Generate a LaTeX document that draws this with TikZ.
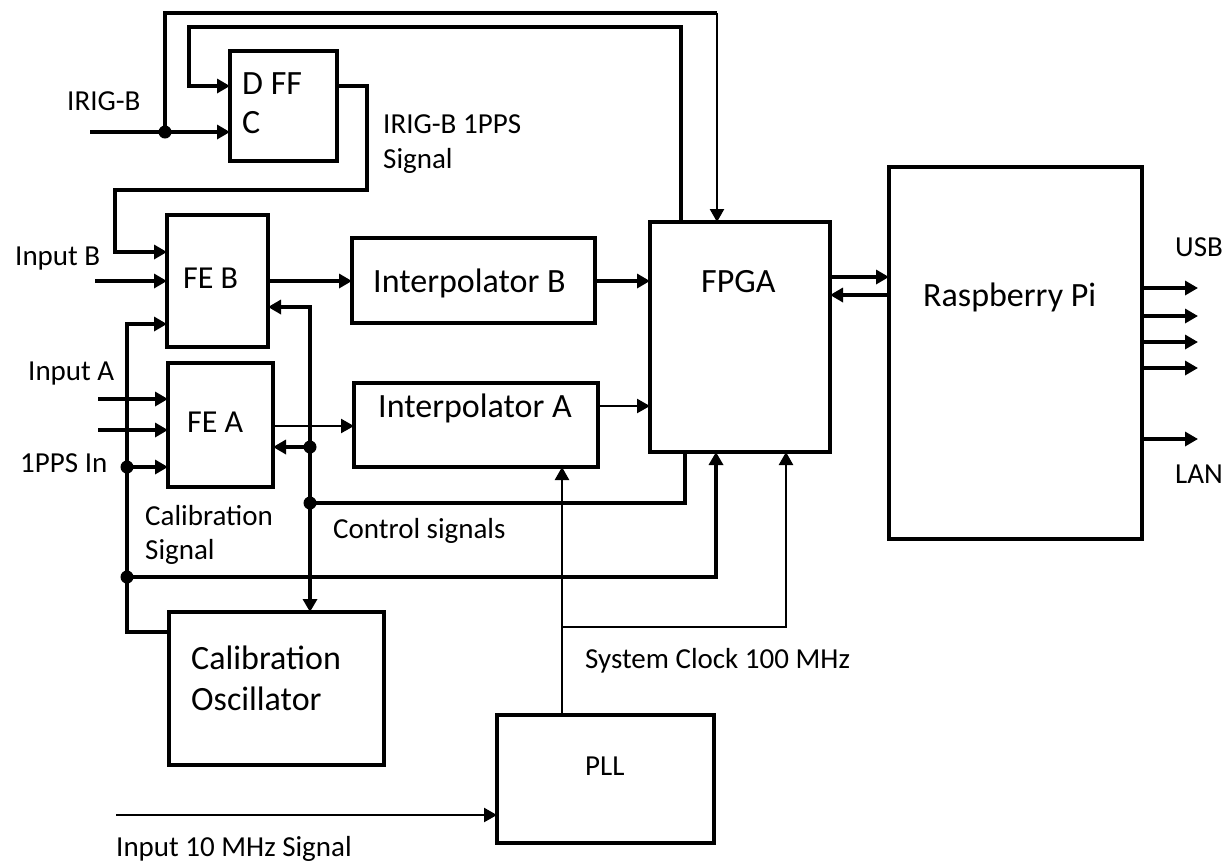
\documentclass[tikz,border=0pt]{standalone}
\usepackage{fontspec}
\setmainfont{Carlito}
\usetikzlibrary{arrows.meta}
\tikzset{
 box/.style={draw, line width=4.2pt, rectangle, outer sep=0pt, inner sep=0pt, anchor=north west},
 wire/.style={line width=3.6pt},
 thinwire/.style={line width=2.4pt},
 arr/.style={-{Triangle[length=13pt,width=14pt]}},
 big/.style={font=\fontsize{34}{40}\selectfont, inner sep=0pt, anchor=base west},
 mid/.style={font=\fontsize{32}{38}\selectfont, inner sep=0pt, anchor=base west},
 lab/.style={font=\fontsize{29}{34}\selectfont, inner sep=0pt, anchor=base west},
 dot/.style={fill=black}
}
\begin{document}
\begin{tikzpicture}[x=1pt,y=-1pt]
\useasboundingbox[fill=white] (0,0) rectangle (1227,863);
% boxes
\node[box, minimum width=107pt, minimum height=110pt] (dff) at (230,51) {};
\node[box, minimum width=101pt, minimum height=132pt] (feb) at (167,215) {};
\node[box, minimum width=105pt, minimum height=124pt] (fea) at (168,363) {};
\node[box, minimum width=243pt, minimum height=85pt] (intb) at (352,238) {};
\node[box, minimum width=244pt, minimum height=84pt] (inta) at (354,383) {};
\node[box, minimum width=180pt, minimum height=230pt] (fpga) at (650,222) {};
\node[box, minimum width=253pt, minimum height=372pt] (rpi) at (889,167) {};
\node[box, minimum width=215pt, minimum height=153pt] (calosc) at (169,612) {};
\node[box, minimum width=217pt, minimum height=128pt] (pll) at (497,715) {};
% texts
\node[lab] (tirig) at (67,110) {IRIG-B};
\node[big] (tdff) at (242,94) {D FF};
\node[big] (tc) at (242,133) {C};
\node[lab] (tpps1) at (383,133) {IRIG-B 1PPS};
\node[lab] (tpps2) at (383,168) {Signal};
\node[lab] (tinb) at (15,265) {Input B};
\node[lab] (tina) at (28,380) {Input A};
\node[lab] (t1pps) at (20,472) {1PPS In};
\node[mid] (tfeb) at (183,288) {FE B};
\node[mid] (tfea) at (187,432) {FE A};
\node[big] (tintb) at (373,292) {Interpolator B};
\node[big] (tinta) at (378,417) {Interpolator A};
\node[big] (tfpga) at (701,292) {FPGA};
\node[big] (trpi) at (923,306) {Raspberry Pi};
\node[lab] (tusb) at (1175,256) {USB};
\node[lab] (tlan) at (1175,483) {LAN};
\node[lab] (tcal1) at (145,525) {Calibration};
\node[lab] (tcal2) at (145,559) {Signal};
\node[lab] (tctl) at (333,538) {Control signals};
\node[big] (tosc1) at (191,669) {Calibration};
\node[big] (tosc2) at (191,710) {Oscillator};
\node[lab] (tclk) at (585,668) {System Clock 100 MHz};
\node[lab] (tpll) at (585,775) {PLL};
\node[lab] (t10) at (116,856) {Input 10 MHz Signal};
% coordinates
\coordinate (irigin) at (90,132);
\coordinate (jirig) at (165,132);
\coordinate (toptr) at (717,13);
\coordinate (xfd) at (681,0);
\coordinate (ffd) at (189,27);
\coordinate (yd) at (0,86);
\coordinate (qr) at (367,190);
\coordinate (qd) at (115,252);
\coordinate (inb) at (95,281);
\coordinate (yb) at (0,281);
\coordinate (calL) at (127,632);
\coordinate (calT) at (127,324);
\coordinate (jpps) at (127,467);
\coordinate (jcal) at (127,577);
\coordinate (ina1) at (98,399);
\coordinate (ina2) at (98,430);
\coordinate (ya) at (0,426);
\coordinate (yia) at (0,406);
\coordinate (ctlB) at (685,503);
\coordinate (jctl) at (310,503);
\coordinate (ctlT) at (310,307);
\coordinate (jfea) at (310,447);
\coordinate (calR) at (716,577);
\coordinate (xclk) at (562,0);
\coordinate (jclk) at (562,627);
\coordinate (clkR) at (786,627);
\coordinate (in10) at (116,815);
\coordinate (y1) at (0,277);
\coordinate (y2) at (0,295);
\coordinate (u1) at (1198,288);
\coordinate (u2) at (1198,316);
\coordinate (u3) at (1198,342);
\coordinate (u4) at (1198,368);
\coordinate (lan) at (1198,439);
% IRIG-B
\draw[wire] (irigin) -- (jirig);
\draw[wire,arr] (jirig) -- (dff.west |- jirig);
\draw[wire] (jirig) |- (toptr);
\draw[thinwire,arr] (toptr) -- (fpga.north -| toptr);
% FPGA -> D
\draw[wire,arr] (fpga.north -| xfd) |- (ffd) |- (dff.west |- yd);
% Q -> FE B
\draw[wire,arr] (dff.east |- yd) -| (qr) -| (qd) -- (feb.west |- qd);
% Input B
\draw[wire,arr] (inb) -- (feb.west |- inb);
% Calibration loop
\draw[wire,arr] (calosc.west |- calL) -- (calL) -- (calT) -- (feb.west |- calT);
\draw[wire,arr] (jpps) -- (fea.west |- jpps);
\draw[wire,arr] (jcal) -| (calR) -- (fpga.south -| calR);
% Input A
\draw[wire,arr] (ina1) -- (fea.west |- ina1);
\draw[wire,arr] (ina2) -- (fea.west |- ina2);
% FE -> interpolators -> FPGA
\draw[wire,arr] (feb.east |- yb) -- (intb.west |- yb);
\draw[wire,arr] (intb.east |- yb) -- (fpga.west |- yb);
\draw[thinwire,arr] (fea.east |- ya) -- (inta.west |- ya);
\draw[thinwire,arr] (inta.east |- yia) -- (fpga.west |- yia);
% Control signals
\draw[wire] (fpga.south -| ctlB) -- (ctlB) -- (jctl);
\draw[wire,arr] (jctl) -- (ctlT) -- (feb.east |- ctlT);
\draw[wire,arr] (jfea) -- (fea.east |- jfea);
\draw[wire,arr] (jctl) -- (calosc.north -| jctl);
% System clock
\draw[thinwire,arr] (pll.north -| xclk) -- (inta.south -| xclk);
\draw[thinwire,arr] (jclk) -- (clkR) -- (fpga.south -| clkR);
\draw[thinwire,arr] (in10) -- (pll.west |- in10);
% FPGA <-> RPi
\draw[wire,arr] (fpga.east |- y1) -- (rpi.west |- y1);
\draw[wire,arr] (rpi.west |- y2) -- (fpga.east |- y2);
% RPi outputs
\foreach \u in {u1,u2,u3,u4,lan} {
  \draw[wire,arr] (rpi.east |- \u) -- (\u);
}
% dots
\fill[dot] (jirig) circle[radius=6.5pt];
\fill[dot] (jpps) circle[radius=6.5pt];
\fill[dot] (jcal) circle[radius=6.5pt];
\fill[dot] (jctl) circle[radius=6.5pt];
\fill[dot] (jfea) circle[radius=6.5pt];
\end{tikzpicture}
\end{document}
